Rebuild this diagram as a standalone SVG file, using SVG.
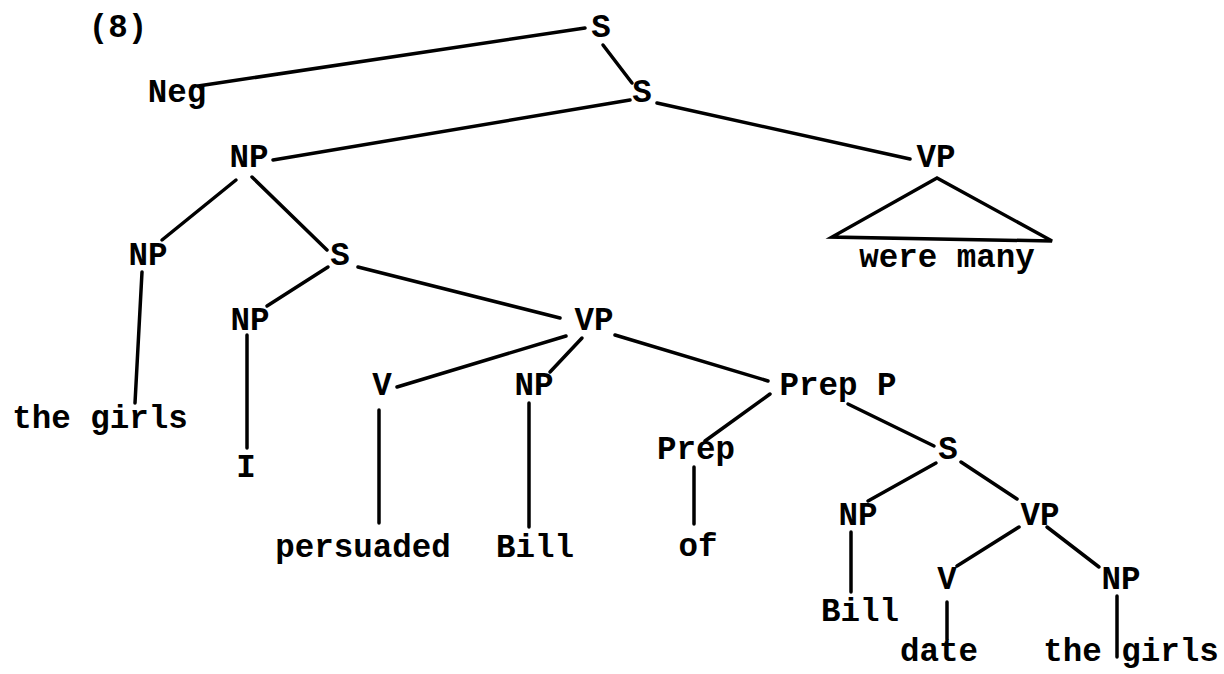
<svg xmlns="http://www.w3.org/2000/svg" width="1224" height="674" viewBox="0 0 1224 674">
<style>
text{font-family:"Liberation Mono","Courier New",monospace;font-size:32.5px;font-weight:bold;fill:#000;text-anchor:middle}
.e line,.e polygon{stroke:#000;stroke-width:3.5;stroke-linecap:round;fill:none}
</style>
<rect width="1224" height="674" fill="#fff"/>
<g class="e" id="connectors">
<line x1="585" y1="28" x2="198" y2="86"/>
<line x1="603" y1="45" x2="632" y2="83"/>
<line x1="630" y1="100" x2="273" y2="160"/>
<line x1="657" y1="103" x2="910" y2="159"/>
<polygon points="937,178 832,237 1052,241"/>
<line x1="236" y1="180" x2="162" y2="240"/>
<line x1="252" y1="177" x2="327" y2="250"/>
<line x1="142" y1="272" x2="135" y2="403"/>
<line x1="328" y1="267" x2="267" y2="306"/>
<line x1="358" y1="267" x2="560" y2="318"/>
<line x1="247" y1="335" x2="247" y2="448"/>
<line x1="566" y1="336" x2="397" y2="387"/>
<line x1="582" y1="338" x2="550" y2="372"/>
<line x1="615" y1="335" x2="768" y2="381"/>
<line x1="379" y1="410" x2="379" y2="523"/>
<line x1="529" y1="403" x2="529" y2="527"/>
<line x1="770" y1="394" x2="705" y2="441"/>
<line x1="848" y1="404" x2="934" y2="446"/>
<line x1="694" y1="467" x2="694" y2="524"/>
<line x1="936" y1="463" x2="868" y2="501"/>
<line x1="961" y1="462" x2="1017" y2="499"/>
<line x1="851" y1="532" x2="851" y2="592"/>
<line x1="1019" y1="527" x2="957" y2="566"/>
<line x1="1047" y1="527" x2="1099" y2="567"/>
<line x1="947" y1="602" x2="947" y2="639"/>
<line x1="1117" y1="596" x2="1117" y2="657"/>
</g>
<g id="label"><text x="118" y="37">(8)</text></g>
<g id="n-s1"><text x="601" y="37">S</text></g>
<g id="n-neg"><text x="177" y="102">Neg</text></g>
<g id="n-s2"><text x="642" y="102">S</text></g>
<g id="n-np1"><text x="249" y="167">NP</text></g>
<g id="n-vp1"><text x="936" y="167">VP</text></g>
<g id="n-weremany"><text x="947" y="267">were many</text></g>
<g id="n-np2"><text x="148" y="265">NP</text></g>
<g id="n-s3"><text x="340" y="265">S</text></g>
<g id="n-np3"><text x="250" y="330">NP</text></g>
<g id="n-vp2"><text x="594" y="330">VP</text></g>
<g id="n-thegirls1"><text x="100" y="428">the girls</text></g>
<g id="n-v1"><text x="382" y="395">V</text></g>
<g id="n-np4"><text x="534" y="395">NP</text></g>
<g id="n-prepp"><text x="838" y="395">Prep P</text></g>
<g id="n-i"><text x="246" y="477">I</text></g>
<g id="n-prep"><text x="696" y="459">Prep</text></g>
<g id="n-s4"><text x="948" y="459">S</text></g>
<g id="n-np5"><text x="858" y="525">NP</text></g>
<g id="n-vp3"><text x="1040" y="525">VP</text></g>
<g id="n-persuaded"><text x="363" y="557">persuaded</text></g>
<g id="n-bill1"><text x="535" y="557">Bill</text></g>
<g id="n-of"><text x="698" y="556">of</text></g>
<g id="n-v2"><text x="947" y="589">V</text></g>
<g id="n-np6"><text x="1121" y="589">NP</text></g>
<g id="n-bill2"><text x="860" y="621">Bill</text></g>
<g id="n-date"><text x="939" y="661">date</text></g>
<g id="n-thegirls2"><text x="1131" y="661">the girls</text></g>
</svg>
